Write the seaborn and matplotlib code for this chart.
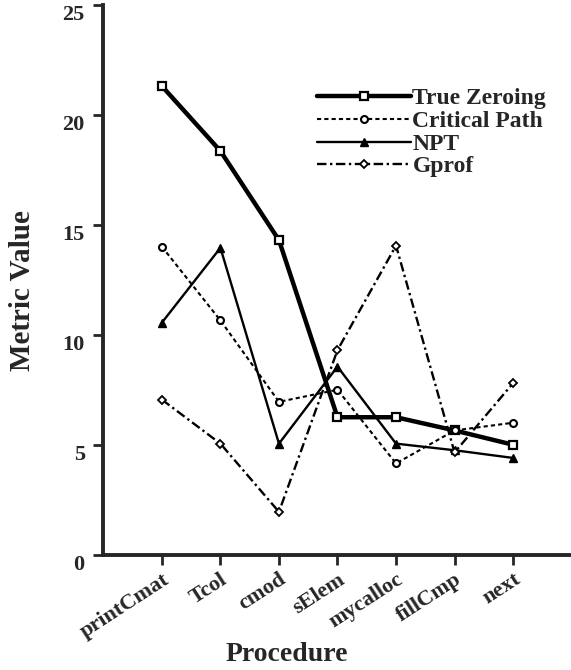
import pandas as pd
import seaborn as sns
import matplotlib
matplotlib.use("Agg")
import matplotlib.pyplot as plt

procedures = ['printCmat', 'Tcol', 'cmod', 'sElem', 'mycalloc', 'fillCmp', 'next']
true_zeroing = [21.3, 18.35, 14.3, 6.25, 6.25, 5.65, 5.0]
critical_path = [14.0, 10.65, 6.95, 7.5, 4.15, 5.65, 6.0]
npt = [10.55, 13.95, 5.05, 8.55, 5.05, 4.75, 4.4]
gprof = [7.05, 5.05, 1.95, 9.3, 14.05, 4.65, 7.8]

series = {'True Zeroing': true_zeroing, 'Critical Path': critical_path,
          'NPT': npt, 'Gprof': gprof}
df = pd.DataFrame([(name, i, v) for name, vals in series.items()
                   for i, v in enumerate(vals)],
                  columns=['method', 'pos', 'value'])

sns.set_style("ticks")
plt.rcParams['font.family'] = ['Liberation Serif', 'DejaVu Serif']
plt.rcParams['font.weight'] = 'bold'

fig = plt.figure(figsize=(5.71, 6.70), dpi=100)
ax = fig.add_axes([0.180, 0.172, 0.818, 0.821])

styles = {
    'True Zeroing': dict(ls='-', lw=3.2, marker='s', ms=6, mfc='white', mew=1.6),
    'Critical Path': dict(ls=(0, (2, 1.5)), lw=1.5, marker='o', ms=5, mfc='white', mew=1.5),
    'NPT': dict(ls='-', lw=1.7, marker='^', ms=6, mfc='black', mew=1.0),
    'Gprof': dict(ls=(0, (4, 1.5, 1, 1.5)), lw=1.7, marker='D', ms=4, mfc='white', mew=1.3),
}
for name in series:
    st = styles[name]
    sns.lineplot(data=df[df.method == name], x='pos', y='value', ax=ax,
                 color='black', linestyle=st['ls'], linewidth=st['lw'],
                 marker=st['marker'], markersize=st['ms'],
                 markerfacecolor=st['mfc'], markeredgecolor='black',
                 markeredgewidth=st['mew'], label=name)

ax.set_xlim(-1.01, 6.97)
ax.set_ylim(0, 25)
ax.set_yticks([0, 5, 10, 15, 20, 25])
ax.set_xticks(range(len(procedures)))
ax.set_xticklabels(procedures, rotation=33, ha='right', rotation_mode='anchor',
                   fontsize=16, fontweight='bold')
# y tick labels sit a little below their ticks in the original
for t in ax.get_yticklabels():
    t.set_fontsize(16)
    t.set_fontweight('bold')
    t.set_verticalalignment('top')
ax.tick_params(axis='both', width=2, length=7, direction='out')
ax.tick_params(axis='y', pad=6)
ax.set_xlabel('Procedure', fontsize=20, fontweight='bold', va='center')
ax.set_ylabel('Metric Value', fontsize=21, fontweight='bold', va='center')
ax.xaxis.set_label_coords(0.394, -0.182)
ax.yaxis.set_label_coords(-0.171, 0.48)
sns.despine(ax=ax)
for s in ['left', 'bottom']:
    ax.spines[s].set_linewidth(2.8)

leg = ax.legend(loc='upper left', bbox_to_anchor=(0.438, 0.866), frameon=False,
                handlelength=4.0, handletextpad=0.05, labelspacing=0.05,
                borderaxespad=0,
                prop={'family': 'Liberation Serif', 'weight': 'bold', 'size': 17})

fig.savefig('out.png', dpi=100)
